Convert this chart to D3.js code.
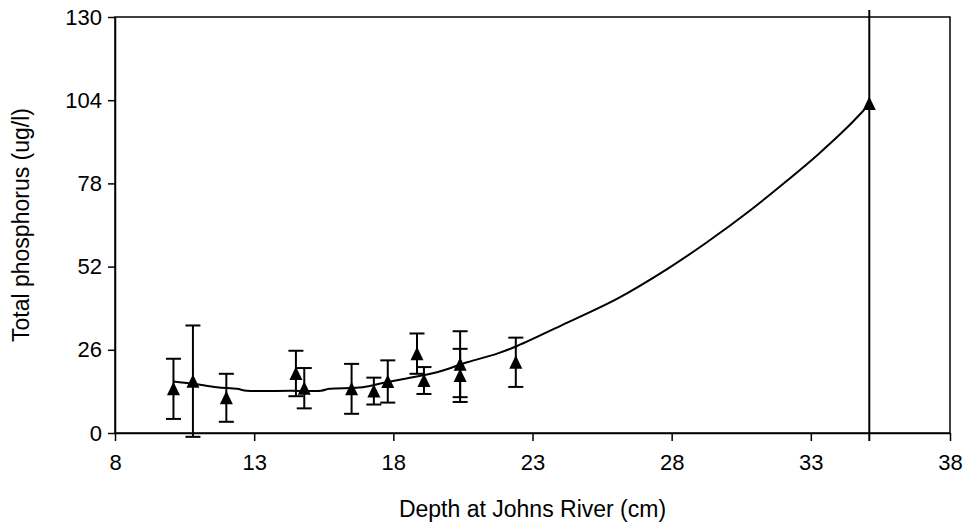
<!DOCTYPE html>
<html>
<head>
<meta charset="utf-8">
<script src="https://cdn.jsdelivr.net/npm/d3@7"></script>
<style>
  body { margin: 0; background: #fff; }
  svg { display: block; font-family: 'Liberation Sans', Arial, sans-serif; }
</style>
</head>
<body>
<div id="chart"></div>
<script>
// data
// -----------------------------------------------
const depth = [10.1, 10.8, 12.0, 14.5, 14.8, 16.5, 17.3, 17.8, 18.85, 19.1, 20.4, 20.4, 22.4, 35.1];
const phosphorus = [13.8, 16.2, 11.0, 18.6, 14.0, 13.8, 13.1, 16.1, 24.8, 16.4, 21.5, 18.0, 22.1, 103];
const errorSize = [9.4, 17.4, 7.5, 7.1, 6.3, 7.8, 4.2, 6.6, 6.3, 4.2, 10.3, 8.3, 7.7, 200];

// fitted curve
const trendX = [10.1, 10.8, 11.66, 12.38, 12.74, 14.3, 15.4, 15.7, 16.9, 17.65, 18.37, 19.57, 20.65, 21.73, 22.45, 24.25, 26.05, 27.85, 29.28, 30.84, 32.04, 33.24, 34.32, 34.92];
const trendY = [16.1, 15.4, 14.3, 13.8, 13.2, 13.2, 13.2, 13.8, 14.3, 15.7, 16.9, 19.0, 22.1, 24.8, 27.2, 34.5, 42.0, 51.3, 59.7, 69.7, 78.1, 86.9, 95.6, 101.0];

const xTicks = [8, 13, 18, 23, 28, 33, 38];
const yTicks = [0, 26, 52, 78, 104, 130];

// -----------------------------------------------
let margin = { top: 17, right: 19, bottom: 94, left: 115 },
  width = 969,
  height = 527;

const x = d3.scaleLinear().domain([8, 38]).range([margin.left, width - margin.right]);
const y = d3.scaleLinear().domain([0, 130]).range([height - margin.bottom, margin.top]);

const svg = d3.select('#chart').append('svg')
  .attr('width', width)
  .attr('height', height);

// plot frame
svg.append('rect')
  .attr('x', x(8)).attr('y', y(130))
  .attr('width', x(38) - x(8)).attr('height', y(0) - y(130))
  .attr('fill', 'none').attr('stroke', '#000').attr('stroke-width', 1.5);

// axes
const xAxis = svg.append('g')
  .attr('transform', `translate(0,${y(0)})`)
  .call(d3.axisBottom(x).tickValues(xTicks).tickSize(8).tickPadding(13).tickSizeOuter(0));
const yAxis = svg.append('g')
  .attr('transform', `translate(${x(8)},0)`)
  .call(d3.axisLeft(y).tickValues(yTicks).tickSize(7).tickPadding(6).tickSizeOuter(0));

[xAxis, yAxis].forEach((g) => {
  g.select('.domain').attr('stroke-width', 1.5);
  g.selectAll('.tick line').attr('stroke-width', 1.5);
  g.selectAll('text').attr('font-size', 22).attr('fill', '#000')
    .attr('font-family', "'Liberation Sans', Arial, sans-serif");
});

// axis titles
svg.append('text')
  .attr('x', (x(8) + x(38)) / 2).attr('y', 517)
  .attr('text-anchor', 'middle').attr('font-size', 23)
  .text('Depth at Johns River (cm)');
svg.append('text')
  .attr('transform', `translate(29,${(y(0) + y(130)) / 2}) rotate(-90)`)
  .attr('text-anchor', 'middle').attr('font-size', 23)
  .text('Total phosphorus (ug/l)');

// clip so the huge error bar stops just past the frame
svg.append('clipPath').attr('id', 'clip')
  .append('rect')
  .attr('x', 0).attr('y', y(130) - 7)
  .attr('width', width).attr('height', y(0) - y(130) + 15);

const points = depth.map((d, i) => ({ x: d, y: phosphorus[i], e: errorSize[i] }));
const trend = trendX.map((d, i) => [d, trendY[i]]);

// trend line
svg.append('path')
  .datum(trend)
  .attr('fill', 'none')
  .attr('stroke', '#000')
  .attr('stroke-width', 2)
  .attr('d', d3.line().x((d) => x(d[0])).y((d) => y(d[1])).curve(d3.curveCatmullRom.alpha(0.5)));

// error bars
const capW = 7.5;
const err = svg.append('g').attr('clip-path', 'url(#clip)')
  .attr('stroke', '#000').attr('stroke-width', 2);
err.selectAll('g')
  .data(points)
  .join('g')
  .each(function (d) {
    const g = d3.select(this);
    g.append('line')
      .attr('x1', x(d.x)).attr('x2', x(d.x))
      .attr('y1', y(d.y + d.e)).attr('y2', y(d.y - d.e));
    g.append('line')
      .attr('x1', x(d.x) - capW).attr('x2', x(d.x) + capW)
      .attr('y1', y(d.y + d.e)).attr('y2', y(d.y + d.e));
    g.append('line')
      .attr('x1', x(d.x) - capW).attr('x2', x(d.x) + capW)
      .attr('y1', y(d.y - d.e)).attr('y2', y(d.y - d.e));
  });

// triangle markers
svg.append('g')
  .selectAll('path')
  .data(points)
  .join('path')
  .attr('transform', (d) => `translate(${x(d.x)},${y(d.y)})`)
  .attr('d', 'M0,-7L6.5,6.5L-6.5,6.5Z')
  .attr('fill', '#000');
</script>
</body>
</html>
